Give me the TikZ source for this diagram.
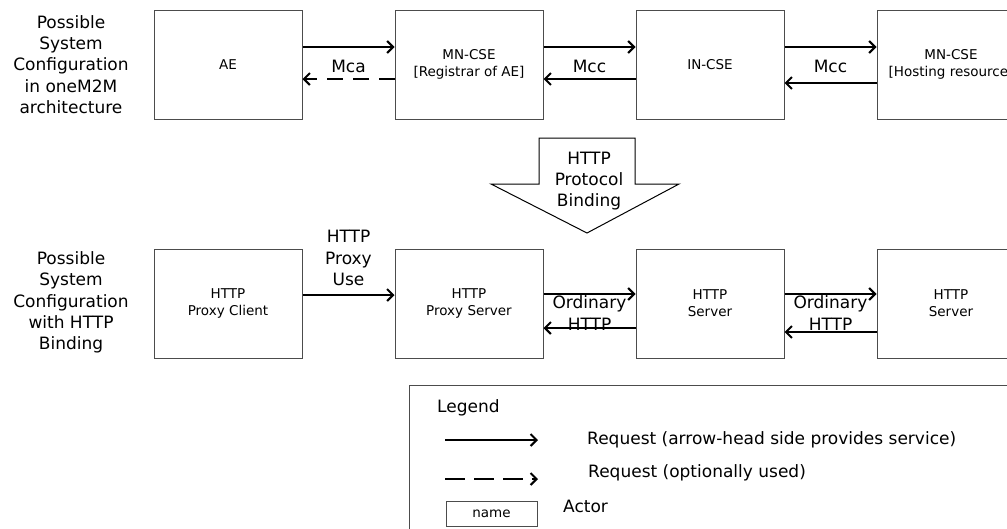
\documentclass[tikz,border=0pt]{standalone}
\usepackage{fontspec}
\setmainfont{DejaVu Sans}
\usetikzlibrary{arrows.meta,positioning,calc}

\begin{document}
\begin{tikzpicture}[x=1pt,y=-1pt,
  actor/.style={draw=black!70, line width=1pt, minimum width=148pt, minimum height=109pt,
    align=center, inner sep=0pt, font=\fontsize{13.5}{17}\selectfont},
  big/.style={align=center, inner sep=0pt, font=\fontsize{17}{21.3}\selectfont},
  req/.style={line width=2pt, -{Straight Barb[length=6pt,width=12pt]}},
  opt/.style={req, dash pattern=on 16pt off 10pt}]
\useasboundingbox (0,0) rectangle (1007,528);
% oneM2M row
\node[actor] (ae) at (228,64.5) {AE};
\node[actor, right=92pt of ae] (mn) {MN-CSE\\{[Registrar of AE]}};
\node[actor, right=92pt of mn] (in) {IN-CSE};
\node[actor, right=92pt of in] (host) {MN-CSE\\{[Hosting resource]}};
\node[big] (cfg1) at (71,64.5) {Possible\\System\\Configuration\\in oneM2M\\architecture};
\draw[req] ([yshift=17.5pt]ae.east) -- ([yshift=17.5pt]mn.west);
\draw[opt] ([yshift=-14.5pt]mn.west) -- ([yshift=-14.5pt]ae.east);
\draw[req] ([yshift=17.5pt]mn.east) -- ([yshift=17.5pt]in.west);
\draw[req] ([yshift=-14.5pt]in.west) -- ([yshift=-14.5pt]mn.east);
\draw[req] ([yshift=17.5pt]in.east) -- ([yshift=17.5pt]host.west);
\draw[req] ([yshift=-18.5pt]host.west) -- ([yshift=-18.5pt]in.east);
\node[big] (mca) at ($(ae.east)!0.5!(mn.west)+(0,1.5)$) {Mca};
\node[big] (mcc1) at ($(mn.east)!0.5!(in.west)+(0,1.5)$) {Mcc};
\node[big] (mcc2) at ($(in.east)!0.5!(host.west)+(0,1.5)$) {Mcc};
% binding arrow
\draw[line width=1pt] (539,138) -- (635,138) -- (635,184) -- (679,184) -- (587,233)
  -- (491,184) -- (539,184) -- cycle;
\node[big] (bind) at (589,181) {HTTP\\Protocol\\Binding};
% HTTP row
\node[actor, below=129pt of ae] (pc) {HTTP\\Proxy Client};
\node[actor, right=92pt of pc] (ps) {HTTP\\Proxy Server};
\node[actor, right=92pt of ps] (srv1) {HTTP\\Server};
\node[actor, right=92pt of srv1] (srv2) {HTTP\\Server};
\node[big] (cfg2) at (71,302.5) {Possible\\System\\Configuration\\with HTTP\\Binding};
\draw[req] ([yshift=8.5pt]pc.east) -- ([yshift=8.5pt]ps.west);
\draw[req] ([yshift=9.5pt]ps.east) -- ([yshift=9.5pt]srv1.west);
\draw[req] ([yshift=-24.5pt]srv1.west) -- ([yshift=-24.5pt]ps.east);
\draw[req] ([yshift=9.5pt]srv1.east) -- ([yshift=9.5pt]srv2.west);
\draw[req] ([yshift=-28.5pt]srv2.west) -- ([yshift=-28.5pt]srv1.east);
\node[big] (use) at ($(pc.east)!0.5!(ps.west)+(0,-45.5)$) {HTTP\\Proxy\\Use};
\node[big] (ord1) at ($(ps.east)!0.5!(srv1.west)+(0,9.5)$) {Ordinary\\HTTP};
\node[big] (ord2) at ($(srv1.east)!0.5!(srv2.west)+(0,9.5)$) {Ordinary\\HTTP};
% legend
\draw[draw=black!70, line width=1pt] (409,385) rectangle (1015,540);
\node[big, anchor=west] (lgd) at (437,408) {Legend};
\coordinate (s1) at (445,440);
\coordinate (s2) at (538,440);
\coordinate (d1) at (445,479);
\coordinate (d2) at (538,479);
\draw[req] (s1) -- (s2);
\draw[req, dash pattern=on 20pt off 9pt] (d1) -- (d2);
\node[big, anchor=west] (t1) at (587,440) {Request (arrow-head side provides service)};
\node[big, anchor=west] (t2) at (588,473) {Request (optionally used)};
\node[actor, minimum width=91pt, minimum height=25pt] (nm) at (491.5,513.5) {name};
\node[big, anchor=west] (t3) at (563,506) {Actor};
\end{tikzpicture}
\end{document}
